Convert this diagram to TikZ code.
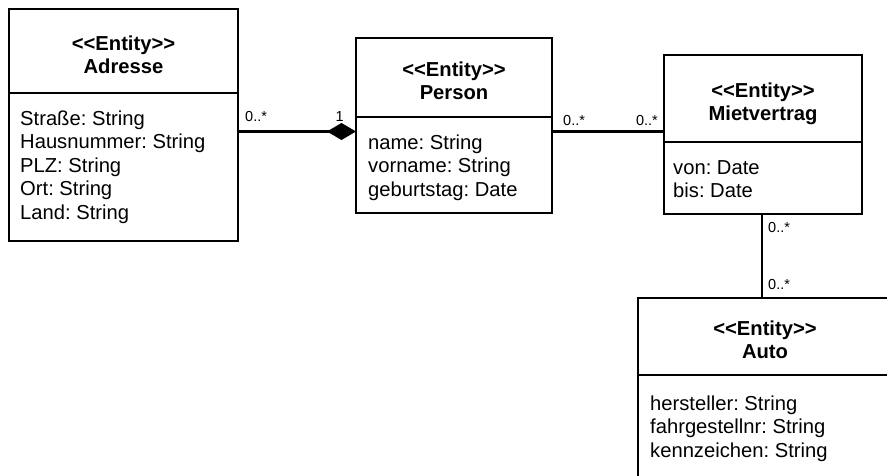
\documentclass[tikz,border=0pt]{standalone}
\usepackage{fontspec}
\setmainfont{Liberation Sans}
\usetikzlibrary{arrows.meta}
% stereotype text; the kerns keep << and >> from turning into guillemets
\newcommand\entitytag{<\kern0pt<Entity>\kern0pt>}
\begin{document}
\frenchspacing
\begin{tikzpicture}[x=1pt,y=-1pt,
  compart/.style={draw, line width=2.8pt, rectangle, inner sep=0pt, outer sep=0pt, anchor=north west},
  classname/.style={font=\fontsize{20.2}{23.5}\selectfont\bfseries, align=center, inner sep=0pt, anchor=north},
  attrs/.style={font=\fontsize{20.2}{23.5}\selectfont, align=left, inner sep=0pt, anchor=north west},
  assoc/.style={line width=2.7pt},
  mult/.style={font=\fontsize{14.5}{16}\selectfont, inner sep=0pt},
]
\useasboundingbox (0,0) rectangle (887,476);
\clip (0,0) rectangle (887,476);

% Adresse
\node[compart, minimum width=229pt, minimum height=84pt] (adrH) at (9,9) {};
\node[compart, minimum width=229pt, minimum height=148pt] (adrA) at (9,93) {};
\node[classname] (adrT) at (123.5,35) {\rule{0pt}{15pt}\entitytag\\Adresse};
\node[attrs] (adrL) at (20,110) {\rule{0pt}{15pt}Straße: String\\Hausnummer: String\\PLZ: String\\Ort: String\\Land: String};

% Person
\node[compart, minimum width=196pt, minimum height=79pt] (perH) at (356,38) {};
\node[compart, minimum width=196pt, minimum height=96pt] (perA) at (356,117) {};
\node[classname] (perT) at (454,61) {\rule{0pt}{15pt}\entitytag\\Person};
\node[attrs] (perL) at (368,134) {\rule{0pt}{15pt}name: String\\vorname: String\\geburtstag: Date};

% Mietvertrag
\node[compart, minimum width=198pt, minimum height=87pt] (mvH) at (664,55) {};
\node[compart, minimum width=198pt, minimum height=72pt] (mvA) at (664,142) {};
\node[classname] (mvT) at (763,82) {\rule{0pt}{15pt}\entitytag\\Mietvertrag};
\node[attrs] (mvL) at (673,159) {\rule{0pt}{15pt}von: Date\\bis: Date};

% Auto
\node[compart, minimum width=254pt, minimum height=77pt] (autoH) at (638,298) {};
\node[compart, minimum width=254pt, minimum height=110pt] (autoA) at (638,375) {};
\node[classname] (autoT) at (765,320) {\rule{0pt}{15pt}\entitytag\\Auto};
\node[attrs] (autoL) at (650,395) {\rule{0pt}{15pt}hersteller: String\\fahrgestellnr: String\\kennzeichen: String};

% associations
\coordinate (rowY) at (0,131.5);
\coordinate (colX) at (762,0);
\draw[assoc, -{Diamond[length=29pt, width=17pt]}] (adrA.east |- rowY) -- (perA.west |- rowY);
\draw[assoc] (perA.east |- rowY) -- (mvH.west |- rowY);
\draw[assoc] (mvA.south -| colX) -- (autoH.north -| colX);

% multiplicities
\node[mult, anchor=base west] (m1) at (245,122) {0..*};
\node[mult, anchor=base east] (m2) at (344,122) {1};
\node[mult, anchor=base west] (m3) at (563,126) {0..*};
\node[mult, anchor=base east] (m4) at (658,126) {0..*};
\node[mult, anchor=base west] (m5) at (768,233) {0..*};
\node[mult, anchor=base west] (m6) at (768,289) {0..*};
\end{tikzpicture}
\end{document}
